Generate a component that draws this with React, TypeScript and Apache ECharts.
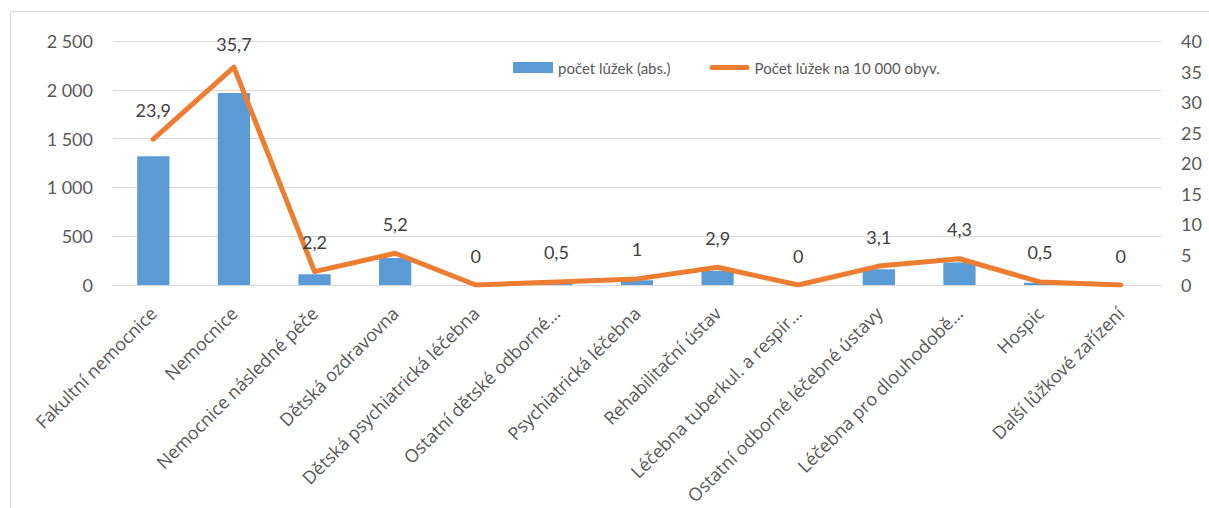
import React, { useEffect, useRef } from "react";
import * as echarts from "echarts";

const categories = [
  "Fakultní nemocnice",
  "Nemocnice",
  "Nemocnice následné péče",
  "Dětská ozdravovna",
  "Dětská psychiatrická léčebna",
  "Ostatní dětské odborné…",
  "Psychiatrická léčebna",
  "Rehabilitační ústav",
  "Léčebna tuberkul. a respir…",
  "Ostatní odborné léčebné ústavy",
  "Léčebna pro dlouhodobě…",
  "Hospic",
  "Další lůžkové zařízení",
];

const bedsAbs = [1320, 1968, 111, 276, 0, 25, 48, 145, 0, 162, 231, 24, 0];
const bedsPer10k = [23.9, 35.7, 2.2, 5.2, 0, 0.5, 1, 2.9, 0, 3.1, 4.3, 0.5, 0];

const leftTicks = { min: 0, max: 2500, interval: 500 };
const rightTicks = { min: 0, max: 40, interval: 5 };

const FONT = "Lato, 'Open Sans', sans-serif";
const XFONT = "'Open Sans', Lato, sans-serif";
const LABEL_COLOR = "#595959";

function fmtThousands(v: number): string {
  return String(v).replace(/\B(?=(\d{3})+(?!\d))/g, " ");
}

const LINE_ICON =
  "path://M0,0M0,11M40,11M2.5,3L37.5,3A2.5,2.5,0,0,1,37.5,8L2.5,8A2.5,2.5,0,0,1,2.5,3Z";

export default function App() {
  const ref = useRef<HTMLDivElement>(null);

  useEffect(() => {
    document.body.style.margin = "0";
    if (!ref.current) return;
    const chart = echarts.init(ref.current, undefined, { renderer: "svg" });
    const maxVal = Math.max(...bedsPer10k);
    chart.setOption({
      animation: false,
      backgroundColor: "#ffffff",
      textStyle: { fontFamily: FONT },
      graphic: [
        {
          type: "rect",
          shape: { x: 10.5, y: 11.5, width: 1400, height: 700 },
          style: { fill: "none", stroke: "#d9d9d9", lineWidth: 1 },
          silent: true,
          z: -1,
        },
      ],
      grid: { left: 113, right: 48, top: 41, bottom: 223, containLabel: false },
      legend: {
        left: 513,
        top: 60,
        padding: 0,
        itemGap: 39,
        itemWidth: 40,
        itemHeight: 11,
        textStyle: { fontFamily: FONT, fontSize: 15, color: LABEL_COLOR },
        data: [
          { name: "počet lůžek (abs.)", icon: "rect" },
          { name: "Počet lůžek na 10 000 obyv.", icon: LINE_ICON, itemStyle: { color: "#ED7D31" } },
        ],
      },
      xAxis: {
        type: "category",
        data: categories,
        axisTick: { show: false },
        axisLine: { lineStyle: { color: "#d9d9d9", width: 1 } },
        axisLabel: {
          rotate: 45,
          interval: 0,
          margin: 25,
          fontFamily: XFONT,
          fontSize: 18,
          color: LABEL_COLOR,
        },
      },
      yAxis: [
        {
          type: "value",
          ...leftTicks,
          axisLine: { show: false },
          axisTick: { show: false },
          splitLine: { lineStyle: { color: "#d9d9d9", width: 1 } },
          axisLabel: {
            margin: 20,
            fontFamily: FONT,
            fontSize: 18,
            color: LABEL_COLOR,
            formatter: (v: number) => fmtThousands(v),
          },
        },
        {
          type: "value",
          ...rightTicks,
          axisLine: { show: false },
          axisTick: { show: false },
          splitLine: { show: false },
          axisLabel: {
            margin: 20,
            fontFamily: FONT,
            fontSize: 18,
            color: LABEL_COLOR,
          },
        },
      ],
      series: [
        {
          name: "počet lůžek (abs.)",
          type: "bar",
          data: bedsAbs,
          yAxisIndex: 0,
          barWidth: "40%",
          itemStyle: { color: "#5B9BD5" },
        },
        {
          name: "Počet lůžek na 10 000 obyv.",
          type: "line",
          data: bedsPer10k.map((v) =>
            v === maxVal ? { value: v, label: { distance: 14 } } : v
          ),
          yAxisIndex: 1,
          symbol: "circle",
          symbolSize: 1,
          showSymbol: true,
          lineStyle: { color: "#ED7D31", width: 5, cap: "round", join: "round" },
          itemStyle: { color: "#ED7D31" },
          label: {
            show: true,
            position: "top",
            distance: 20,
            fontFamily: FONT,
            fontSize: 18,
            color: "#404040",
            formatter: (p: any) => String(p.value).replace(".", ","),
          },
          z: 3,
        },
      ],
    });
    return () => chart.dispose();
  }, []);

  return <div ref={ref} style={{ width: 1209, height: 508 }} />;
}
